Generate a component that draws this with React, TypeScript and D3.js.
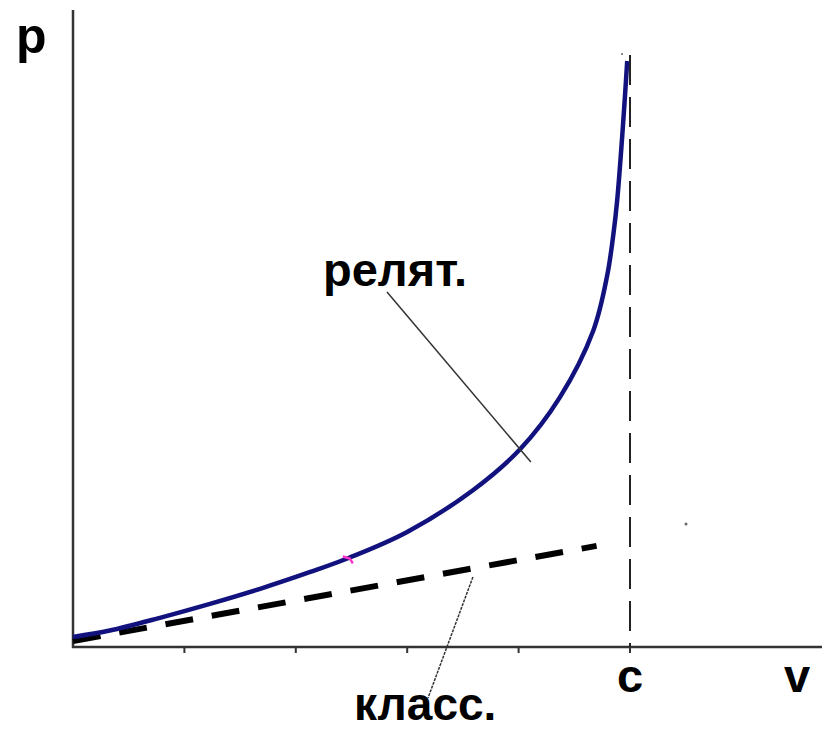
import React from "react";
import * as d3 from "d3";

// v/c values and momentum (arbitrary units)
const relV = [0, 0.066, 0.156, 0.246, 0.336, 0.426, 0.497, 0.6, 0.718, 0.803, 0.874, 0.934, 0.959, 0.97, 0.977, 0.986, 0.991, 0.995];
const relP = [0.7, 1.8, 4.0, 6.4, 9.0, 11.9, 14.4, 18.8, 26.0, 33.1, 42.0, 53.5, 63.0, 70.0, 76.0, 87.0, 94.0, 100];
const clsV = [0, 0.94];
const clsP = [0, 16.4];
const xTicks = [0.2, 0.4, 0.6, 0.8, 1.0];
const labels = { p: "p", v: "v", c: "c", rel: "релят.", cls: "класс." };

const W = 825;
const H = 732;

export default function App() {
  const x = d3.scaleLinear().domain([0, 1]).range([73, 630]);
  const y = d3.scaleLinear().domain([0, 100]).range([641, 61]);

  const relData = relV.map((v, i) => [v, relP[i]] as [number, number]);
  const clsData = clsV.map((v, i) => [v, clsP[i]] as [number, number]);

  const line = d3
    .line<[number, number]>()
    .x((d) => x(d[0]))
    .y((d) => y(d[1]))
    .curve(d3.curveCatmullRom.alpha(0.5));

  const axisY = 647;
  const font = "'Liberation Sans', Arial, sans-serif";

  return (
    <svg
      width={W}
      height={H}
      style={{ position: "absolute", left: 0, top: 0, background: "#fff" }}
    >
      {/* axes */}
      <line x1={x(0)} y1={10} x2={x(0)} y2={axisY + 1} stroke="#333" strokeWidth={2.5} />
      <line x1={x(0) - 1} y1={axisY} x2={822} y2={axisY} stroke="#333" strokeWidth={2.5} />
      {xTicks.map((t) => (
        <line key={t} x1={x(t)} y1={axisY} x2={x(t)} y2={axisY + 6} stroke="#333" strokeWidth={2} />
      ))}

      {/* c asymptote */}
      <line x1={x(1)} y1={55} x2={x(1)} y2={axisY} stroke="#222" strokeWidth={2} strokeDasharray="30 12" />

      {/* classical */}
      <path d={line(clsData) || ""} fill="none" stroke="#000" strokeWidth={6} strokeDasharray="28 19" />

      {/* relativistic */}
      <path d={line(relData) || ""} fill="none" stroke="#12127e" strokeWidth={4.5} />
      <path d={`M${x(0.497) - 7},${y(14.4) - 1} l7,2 l3,5`} fill="none" stroke="#ff33cc" strokeWidth={2.5} />

      {/* leaders */}
      <line x1={387} y1={292} x2={x(0.822)} y2={462} stroke="#333" strokeWidth={1.5} />
      <line x1={x(0.718)} y1={577} x2={428} y2={698} stroke="#333" strokeWidth={1.5} strokeDasharray="3 1" />

      {/* labels */}
      <g fontFamily={font} fontWeight="bold" fontSize={47} fill="#000">
        <text x={16} y={53} fontSize={50}>{labels.p}</text>
        <text x={630} y={692} textAnchor="middle">{labels.c}</text>
        <text x={797} y={692} textAnchor="middle">{labels.v}</text>
        <text x={323} y={286}>{labels.rel}</text>
        <text x={354} y={720} fontSize={46}>{labels.cls}</text>
      </g>
      <circle cx={686} cy={524} r={1.5} fill="#666" />
      <circle cx={622} cy={54} r={1} fill="#666" />
    </svg>
  );
}
